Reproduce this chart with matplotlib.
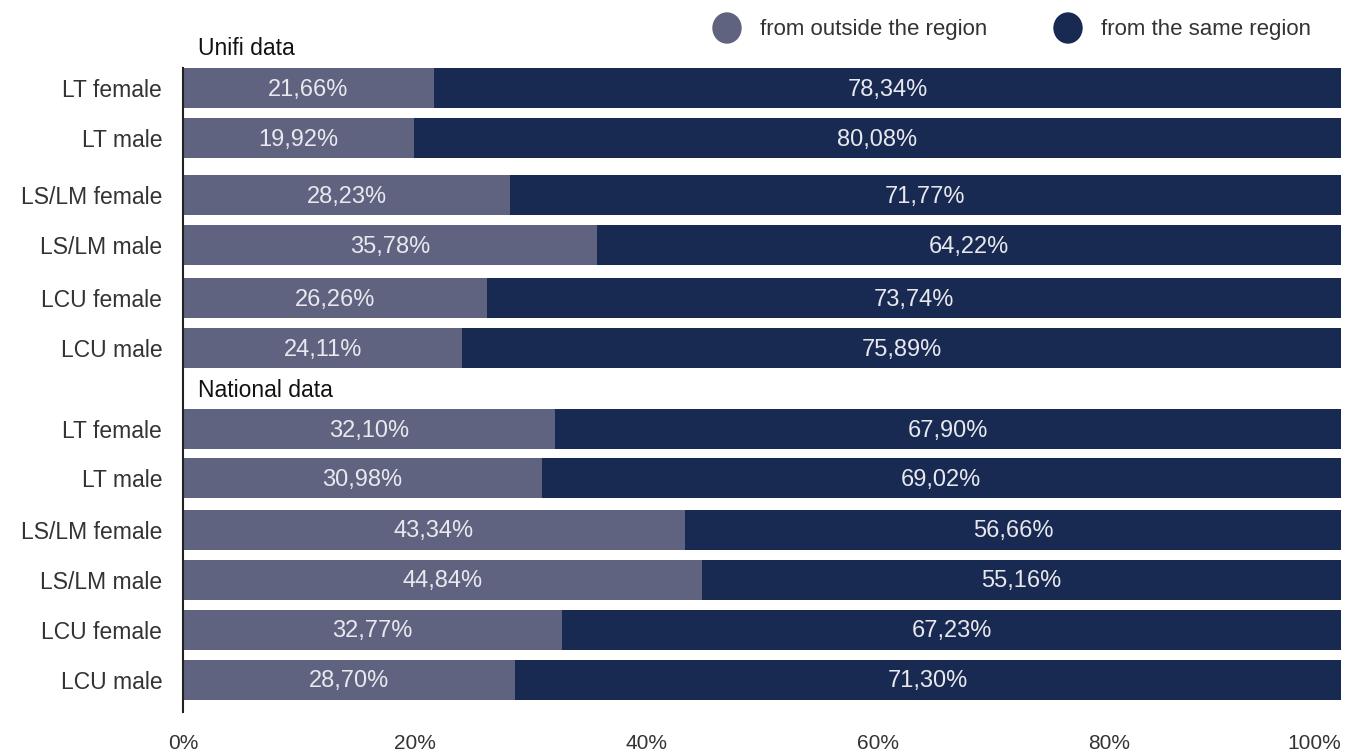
import matplotlib.pyplot as plt
from matplotlib.patches import Ellipse

# share of students by origin, Unifi first, then national figures
categories = ['LT female', 'LT male', 'LS/LM female', 'LS/LM male', 'LCU female', 'LCU male']
groups = ['Unifi data', 'National data']
outside_unifi = [21.66, 19.92, 28.23, 35.78, 26.26, 24.11]
same_unifi = [78.34, 80.08, 71.77, 64.22, 73.74, 75.89]
outside_nat = [32.10, 30.98, 43.34, 44.84, 32.77, 28.70]
same_nat = [67.90, 69.02, 56.66, 55.16, 67.23, 71.30]
ticks = [0, 20, 40, 60, 80, 100]

C_OUT = '#5f6380'
C_SAME = '#182a52'

plt.rcParams['font.family'] = ['Liberation Sans', 'DejaVu Sans']

# row centres in pixel-like units (y grows downward)
rows_unifi = [88, 138, 195, 245, 298, 348]
rows_nat = [429, 478, 530, 580, 630, 680]
header_y = [48, 390]

fig = plt.figure(figsize=(13.63, 7.52), dpi=100)
W, H = 1363, 752
ax = fig.add_axes([183 / W, 1 - 712 / H, (1341 - 183) / W, (712 - 68) / H])
ax.set_xlim(0, 100)
ax.set_ylim(712, 68)

def fmt(v):
    return ('%.2f%%' % v).replace('.', ',')

for ys, outs, sames in [(rows_unifi, outside_unifi, same_unifi),
                        (rows_nat, outside_nat, same_nat)]:
    ax.barh(ys, outs, height=40, color=C_OUT)
    ax.barh(ys, sames, left=outs, height=40, color=C_SAME)
    for y, o, s in zip(ys, outs, sames):
        ax.text(o / 2, y + 1.5, fmt(o), ha='center', va='center', color='#e8e8ee', fontsize=17)
        ax.text(o + s / 2, y + 1.5, fmt(s), ha='center', va='center', color='#e8e8ee', fontsize=17)

ax.set_yticks(rows_unifi + rows_nat)
ax.set_yticklabels(categories + categories, fontsize=16.5, color='#333333')
ax.tick_params(axis='y', length=0, pad=15)

ax.set_xticks(ticks)
ax.set_xticklabels(['%d%%' % t for t in ticks], fontsize=15, color='#333333')
ax.tick_params(axis='x', length=0, pad=16)
ax.get_xticklabels()[-1].set_ha('right')

for s in ['top', 'right', 'bottom']:
    ax.spines[s].set_visible(False)
ax.spines['left'].set_color('#222222')
ax.spines['left'].set_linewidth(1.5)

for g, y in zip(groups, header_y):
    ax.text(1.3, y, g, ha='left', va='center', fontsize=16.5, color='#111111', clip_on=False)

# legend drawn in figure pixels
for x, label, c in [(727, 'from outside the region', C_OUT), (1068, 'from the same region', C_SAME)]:
    fig.patches.append(Ellipse((x / W, 1 - 28 / H), 28 / W, 30 / H, color=c,
                               transform=fig.transFigure))
    fig.text((x + 33) / W, 1 - 30 / H, label, ha='left', va='center', fontsize=16, color='#333333')

fig.savefig('out.png', dpi=100)
